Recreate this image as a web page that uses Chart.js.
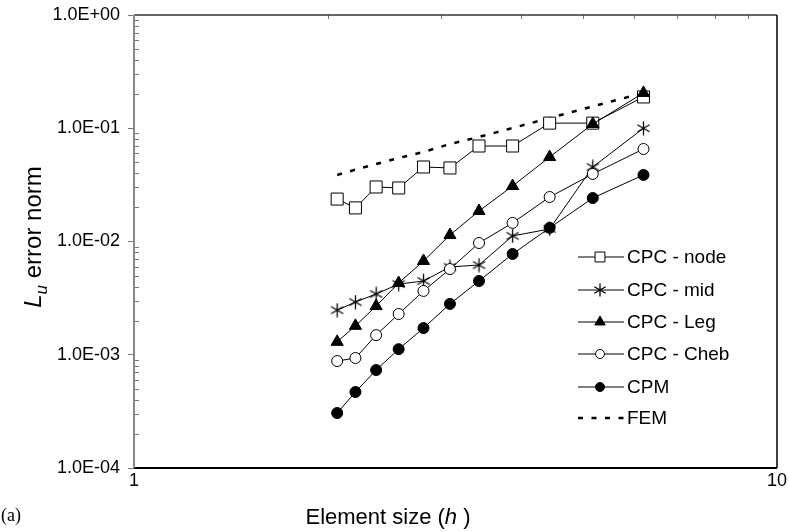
<!DOCTYPE html>
<html>
<head>
<meta charset="utf-8">
<script src="https://cdn.jsdelivr.net/npm/chart.js@4.4.1/dist/chart.umd.min.js"></script>
<style>
	html, body { margin: 0; padding: 0; background: #fff; }
	#chart { display: block; }
</style>
</head>
<body>
<canvas id="chart" width="789" height="532"></canvas>
<script>
"use strict";

// element size h (62 / n, n = 30, 28, ..., 10)
const hValues = [2.07, 2.21, 2.38, 2.58, 2.82, 3.10, 3.44, 3.88, 4.43, 5.17, 6.20];

const cpcNode = [0.0237, 0.0198, 0.0303, 0.0297, 0.0455, 0.0446, 0.0697, 0.0697, 0.111, 0.111, 0.189];
const cpcMid = [0.00248, 0.00292, 0.00344, 0.00421, 0.00448, 0.00596, 0.0062, 0.0112, 0.0129, 0.0455, 0.100];
const cpcLeg = [0.0013, 0.0018, 0.00269, 0.0043, 0.00673, 0.0114, 0.0186, 0.0309, 0.0557, 0.109, 0.205];
const cpcCheb = [0.00088, 0.000936, 0.00149, 0.00229, 0.00366, 0.00571, 0.0097, 0.0146, 0.0247, 0.0395, 0.0656];
const cpm = [0.000306, 0.000469, 0.000733, 0.00112, 0.00172, 0.00281, 0.00448, 0.00776, 0.0132, 0.0242, 0.0387];
const fem = [0.0387, 0.0431, 0.0483, 0.0546, 0.0617, 0.0726, 0.0837, 0.1005, 0.123, 0.156, 0.205];

const seriesNames = ["CPC - node", "CPC - mid", "CPC - Leg", "CPC - Cheb", "CPM", "FEM"];

const xTickValues = [1, 10];
const xTickLabels = ["1", "10"];
const yTickValues = [1e-4, 1e-3, 1e-2, 1e-1, 1];
const yTickLabels = ["1.0E-04", "1.0E-03", "1.0E-02", "1.0E-01", "1.0E+00"];

const FONT = "Arial, 'Liberation Sans', sans-serif";

// six-spoke asterisk marker, like the spreadsheet one
function makeAsterisk(size) {
	const c = document.createElement("canvas");
	c.width = size;
	c.height = size;
	const g = c.getContext("2d");
	const m = size / 2;
	const r = m - 0.5;
	g.strokeStyle = "#000";
	g.lineWidth = 1.3;
	g.beginPath();
	for (let k = 0; k < 3; ++k) {
		const a = Math.PI / 2 + k * Math.PI / 3;
		g.moveTo(m + Math.cos(a) * r, m - Math.sin(a) * r);
		g.lineTo(m - Math.cos(a) * r, m + Math.sin(a) * r);
	}
	g.stroke();
	return c;
}

const asterisk = makeAsterisk(15);
const asteriskSmall = makeAsterisk(14);

function pairs(values) {
	return hValues.map((h, i) => ({ x: h, y: values[i] }));
}

function lineSet(label, values, style, radius, fill) {
	return {
		label: label,
		data: pairs(values),
		borderColor: "#000",
		borderWidth: 1,
		pointStyle: style,
		pointRadius: radius,
		pointHoverRadius: radius,
		pointBackgroundColor: fill,
		pointBorderColor: "#000",
		pointBorderWidth: 1,
		tension: 0,
	};
}

const datasets = [
	lineSet(seriesNames[4], cpm, "circle", 5.5, "#000"),
	lineSet(seriesNames[3], cpcCheb, "circle", 5.5, "#fff"),
	lineSet(seriesNames[2], cpcLeg, "triangle", 7, "#000"),
	lineSet(seriesNames[1], cpcMid, asterisk, 7, "#000"),
	lineSet(seriesNames[0], cpcNode, "rect", 8.5, "#fff"),
	{
		label: seriesNames[5],
		data: pairs(fem),
		borderColor: "#000",
		borderWidth: 2.5,
		borderDash: [5, 8.5],
		pointRadius: 0,
		tension: 0,
	},
];

// legend entries in the same order as the reference
const legendRows = [
	{ name: seriesNames[0], style: "rect", radius: 7, fill: "#fff" },
	{ name: seriesNames[1], style: asteriskSmall, radius: 6, fill: "#000" },
	{ name: seriesNames[2], style: "triangle", radius: 6, fill: "#000" },
	{ name: seriesNames[3], style: "circle", radius: 4.5, fill: "#fff" },
	{ name: seriesNames[4], style: "circle", radius: 4.5, fill: "#000" },
	{ name: seriesNames[5], style: null },
];

function drawRich(ctx, parts, x, y) {
	// parts: [text, font, dy]
	let cx = x;
	for (const p of parts) {
		ctx.font = p[1];
		ctx.fillText(p[0], cx, y + (p[2] || 0));
		cx += ctx.measureText(p[0]).width;
	}
	return cx - x;
}

function richWidth(ctx, parts) {
	let w = 0;
	for (const p of parts) {
		ctx.font = p[1];
		w += ctx.measureText(p[0]).width;
	}
	return w;
}

const decorPlugin = {
	id: "decor",
	beforeDatasetsDraw(chart) {
		const ctx = chart.ctx;
		const a = chart.chartArea;
		const ys = chart.scales.y;
		const xs = chart.scales.x;
		ctx.save();

		// minor ticks on the y axis (inside)
		ctx.strokeStyle = "#777";
		ctx.lineWidth = 1;
		ctx.beginPath();
		for (let d = -4; d < 0; ++d) {
			for (let k = 2; k <= 9; ++k) {
				const py = Math.round(ys.getPixelForValue(k * Math.pow(10, d))) + 0.5;
				ctx.moveTo(a.left, py);
				ctx.lineTo(a.left + 5, py);
			}
		}
		// minor ticks on the top edge
		for (let k = 2; k <= 9; ++k) {
			const px = Math.round(xs.getPixelForValue(k)) + 0.5;
			ctx.moveTo(px, a.top);
			ctx.lineTo(px, a.top + 4);
		}
		ctx.stroke();

		// frame
		ctx.lineWidth = 1.5;
		ctx.strokeStyle = "#333";
		ctx.beginPath();
		ctx.moveTo(a.left, a.top);
		ctx.lineTo(a.right, a.top);
		ctx.stroke();
		ctx.strokeStyle = "#000";
		ctx.beginPath();
		ctx.moveTo(a.right, a.top);
		ctx.lineTo(a.right, a.bottom);
		ctx.stroke();
		ctx.lineWidth = 2;
		ctx.beginPath();
		ctx.moveTo(a.left, a.bottom);
		ctx.lineTo(a.right, a.bottom);
		ctx.stroke();
		ctx.strokeStyle = "#888";
		ctx.beginPath();
		ctx.moveTo(a.left, a.top);
		ctx.lineTo(a.left, a.bottom);
		ctx.stroke();
		ctx.restore();
	},
	afterDraw(chart) {
		const ctx = chart.ctx;
		ctx.save();
		ctx.fillStyle = "#000";
		ctx.textBaseline = "middle";

		// legend
		const lx1 = 578, lx2 = 624, mx = 600, tx = 627;
		const rowY = [257, 290, 322, 354, 387, 418];
		legendRows.forEach((row, i) => {
			const y = rowY[i];
			ctx.strokeStyle = "#000";
			if (row.style === null) {
				ctx.lineWidth = 2.5;
				ctx.setLineDash([5, 8.5]);
			} else {
				ctx.lineWidth = 1;
				ctx.setLineDash([]);
			}
			ctx.beginPath();
			ctx.moveTo(lx1, y);
			ctx.lineTo(lx2, y);
			ctx.stroke();
			ctx.setLineDash([]);
			if (row.style !== null) {
				ctx.fillStyle = row.fill;
				ctx.strokeStyle = "#000";
				ctx.lineWidth = 1;
				Chart.helpers.drawPoint(ctx, {
					pointStyle: row.style,
					radius: row.radius,
					borderWidth: 1,
					rotation: 0,
				}, mx, y);
			}
			ctx.fillStyle = "#000";
			ctx.font = "19px " + FONT;
			ctx.textAlign = "left";
			ctx.fillText(row.name, tx, y + 1);
		});

		// x axis title
		ctx.textAlign = "left";
		ctx.textBaseline = "alphabetic";
		const xParts = [
			["Element size (", "22px " + FONT],
			["h", "italic 22px " + FONT],
			[" )", "22px " + FONT],
		];
		const xw = richWidth(ctx, xParts);
		drawRich(ctx, xParts, 388 - xw / 2, 524);

		// y axis title
		const yParts = [
			["L", "italic 24px " + FONT],
			["u", "italic 17px " + FONT, 6],
			[" error norm", "24px " + FONT],
		];
		const yw = richWidth(ctx, yParts);
		ctx.save();
		ctx.translate(41, 237);
		ctx.rotate(-Math.PI / 2);
		drawRich(ctx, yParts, -yw / 2, 0);
		ctx.restore();

		// panel tag
		ctx.font = "18px 'Liberation Serif', 'Times New Roman', serif";
		ctx.fillText("(a)", 1, 521);
		ctx.restore();
	},
};

new Chart(document.getElementById("chart"), {
	type: "line",
	data: { datasets: datasets },
	options: {
		responsive: false,
		animation: false,
		events: [],
		layout: { padding: { top: 15, right: 11, left: 0, bottom: 0 } },
		plugins: {
			legend: { display: false },
			tooltip: { enabled: false },
		},
		scales: {
			x: {
				type: "logarithmic",
				min: 1,
				max: 10,
				afterBuildTicks: scale => {
					scale.ticks = xTickValues.map(v => ({ value: v }));
				},
				afterFit: scale => {
					scale.height = 64;
				},
				grid: { display: false, drawTicks: false },
				border: { display: false },
				ticks: {
					autoSkip: false,
					maxRotation: 0,
					padding: 2,
					color: "#000",
					font: { family: FONT, size: 18 },
					callback: value => {
						const i = xTickValues.indexOf(value);
						return i >= 0 ? xTickLabels[i] : "";
					},
				},
			},
			y: {
				type: "logarithmic",
				min: 1e-4,
				max: 1,
				afterBuildTicks: scale => {
					scale.ticks = yTickValues.map(v => ({ value: v }));
				},
				afterFit: scale => {
					scale.width = 134;
				},
				grid: {
					drawOnChartArea: false,
					drawTicks: true,
					tickLength: 6,
					color: "#777",
				},
				border: { display: false },
				ticks: {
					autoSkip: false,
					padding: 8,
					color: "#000",
					font: { family: FONT, size: 18, lineHeight: 0.7 },
					callback: value => {
						const i = yTickValues.indexOf(value);
						return i >= 0 ? yTickLabels[i] : "";
					},
				},
			},
		},
	},
	plugins: [decorPlugin],
});
</script>
</body>
</html>
